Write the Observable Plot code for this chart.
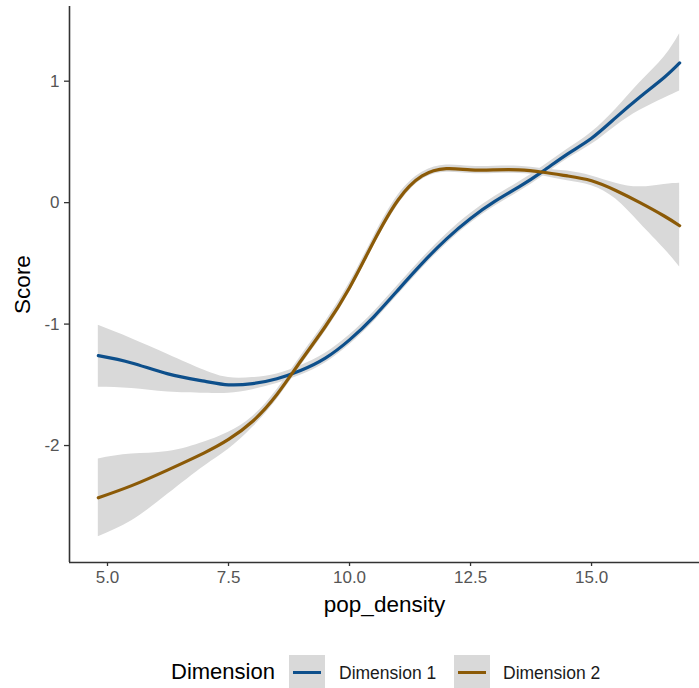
<!DOCTYPE html>
<html>
<head>
<meta charset="utf-8">
<script src="https://cdn.jsdelivr.net/npm/d3@7"></script>
<script src="https://cdn.jsdelivr.net/npm/@observablehq/plot@0.6"></script>
<style>
  html, body { margin: 0; padding: 0; background: #fff; }
  body { width: 699px; height: 688px; overflow: hidden; font-family: "Liberation Sans", Arial, sans-serif; }
</style>
</head>
<body>
<div id="chart"></div>
<div id="legend"></div>
<script>
const popDensity = [4.81, 5.5, 6.25, 7, 7.5, 8, 8.5, 9, 9.5, 10, 10.5, 11, 11.5, 12, 12.5, 13, 13.5, 14, 14.5, 15, 15.5, 16, 16.5, 16.82];

const dim1 =      [-1.26, -1.32, -1.41, -1.47, -1.50, -1.49, -1.45, -1.38, -1.28, -1.13, -0.94, -0.72, -0.50, -0.30, -0.13, 0.01, 0.13, 0.26, 0.40, 0.53, 0.70, 0.87, 1.03, 1.15];
const dim1Upper = [-1.01, -1.12, -1.25, -1.38, -1.44, -1.44, -1.41, -1.34, -1.24, -1.09, -0.90, -0.68, -0.46, -0.26, -0.09, 0.05, 0.17, 0.30, 0.44, 0.58, 0.77, 0.99, 1.20, 1.39];
const dim1Lower = [-1.52, -1.53, -1.56, -1.57, -1.57, -1.54, -1.49, -1.42, -1.32, -1.17, -0.98, -0.76, -0.54, -0.34, -0.17, -0.03, 0.09, 0.22, 0.36, 0.48, 0.63, 0.76, 0.86, 0.92];

const dim2 =      [-2.43, -2.33, -2.20, -2.06, -1.95, -1.80, -1.58, -1.30, -1.02, -0.70, -0.32, 0.02, 0.22, 0.28, 0.27, 0.27, 0.27, 0.25, 0.22, 0.18, 0.10, 0.00, -0.11, -0.19];
const dim2Upper = [-2.11, -2.07, -2.05, -1.97, -1.89, -1.76, -1.54, -1.26, -0.98, -0.66, -0.28, 0.06, 0.25, 0.31, 0.30, 0.30, 0.30, 0.28, 0.26, 0.22, 0.16, 0.13, 0.15, 0.16];
const dim2Lower = [-2.75, -2.62, -2.40, -2.17, -2.03, -1.85, -1.62, -1.34, -1.06, -0.74, -0.36, -0.02, 0.19, 0.25, 0.24, 0.24, 0.24, 0.22, 0.18, 0.14, 0.03, -0.17, -0.38, -0.53];

const seriesNames = ["Dimension 1", "Dimension 2"];
const seriesColors = ["#0d4f8b", "#8b5a07"];
const xTicks = [5.0, 7.5, 10.0, 12.5, 15.0];
const yTicks = [-2, -1, 0, 1];

const rows = [];
popDensity.forEach((x, i) => {
  rows.push({x, y: dim1[i], lo: dim1Lower[i], hi: dim1Upper[i], s: seriesNames[0]});
  rows.push({x, y: dim2[i], lo: dim2Lower[i], hi: dim2Upper[i], s: seriesNames[1]});
});

const xDom = [4.215, 17.23];
const yDom = [-2.963, 1.615];

const chart = Plot.plot({
  width: 699,
  height: 640,
  marginLeft: 69,
  marginRight: 0,
  marginTop: 6,
  marginBottom: 78,
  style: { fontFamily: "Liberation Sans, Arial, sans-serif", background: "#fff", overflow: "visible" },
  x: { domain: xDom, ticks: xTicks, tickFormat: d => d.toFixed(1) },
  y: { domain: yDom, ticks: yTicks, tickFormat: d => String(d) },
  color: { domain: seriesNames, range: seriesColors },
  marks: [
    Plot.areaY(rows, {x: "x", y1: "lo", y2: "hi", z: "s", fill: "#d9d9d9", fillOpacity: 1, curve: "natural"}),
    Plot.lineY(rows, {x: "x", y: "y", z: "s", stroke: "s", strokeWidth: 3.2, curve: "natural"}),
    Plot.ruleX([xDom[0]], {stroke: "#333", strokeWidth: 1.6}),
    Plot.ruleY([yDom[0]], {stroke: "#333", strokeWidth: 1.6}),
    Plot.axisX({ticks: xTicks, tickFormat: d => d.toFixed(1), tickSize: 4, tickPadding: 4, fontSize: 17, color: "#555", stroke: "#333", strokeWidth: 1.3, label: "pop_density", labelAnchor: "center", labelArrow: "none", labelOffset: 49}),
    Plot.axisY({ticks: yTicks, tickFormat: d => String(d), tickSize: 5, tickPadding: 5, fontSize: 17, color: "#555", stroke: "#333", strokeWidth: 1.3, label: "Score", labelAnchor: "center", labelArrow: "none", labelOffset: 55})
  ]
});
chart.querySelectorAll("text").forEach(t => {
  const s = t.textContent.trim();
  if (s === "Score" || s === "pop_density") {
    t.style.setProperty("font-size", "22.5px", "important");
    t.style.setProperty("fill", "#000", "important");
  }
});
chart.querySelectorAll('[aria-label="x-axis tick label"], [aria-label="y-axis tick label"]').forEach(g => {
  g.setAttribute("fill", "#555");
});
document.getElementById("chart").appendChild(chart);

// legend
const legend = document.getElementById("legend");
legend.style.cssText = "position:absolute;left:0;top:0;width:699px;height:688px;pointer-events:none;";
const mk = (txt, left, top, size, color) => {
  const d = document.createElement("div");
  d.style.cssText = `position:absolute;left:${left}px;top:${top}px;font-size:${size}px;color:${color};white-space:nowrap;line-height:1;`;
  d.textContent = txt;
  legend.appendChild(d);
  return d;
};
mk("Dimension", 171, 661, 22, "#000");
const keyLefts = [289, 454];
const labelLefts = [339, 503];
seriesNames.forEach((name, i) => {
  const box = document.createElement("div");
  box.style.cssText = `position:absolute;left:${keyLefts[i]}px;top:655px;width:36px;height:34px;background:#d9d9d9;`;
  const ln = document.createElement("div");
  ln.style.cssText = `position:absolute;left:4px;top:15.5px;width:28px;height:3.2px;background:${seriesColors[i]};`;
  box.appendChild(ln);
  legend.appendChild(box);
  mk(name, labelLefts[i], 664.5, 17.5, "#1a1a1a");
});
</script>
</body>
</html>
